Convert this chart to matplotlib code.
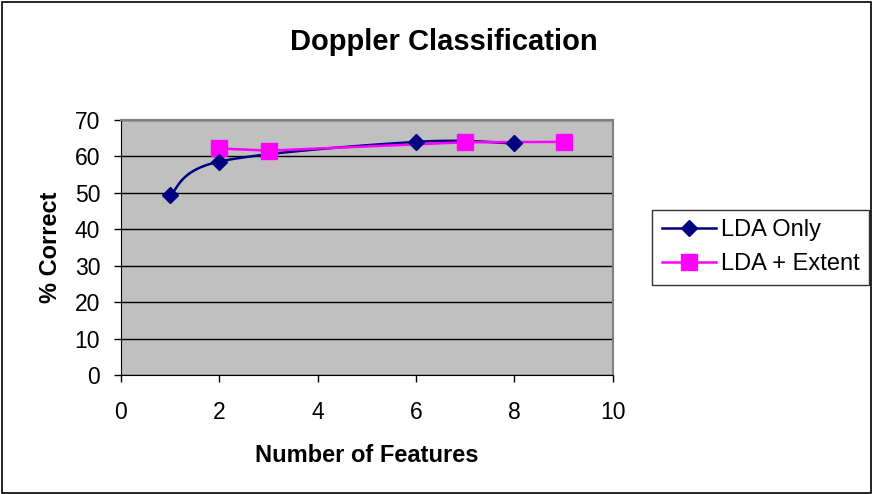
import numpy as np
import matplotlib
matplotlib.use("Agg")
import matplotlib.pyplot as plt
from matplotlib.patches import Rectangle
from matplotlib.lines import Line2D

plt.rcParams['font.family'] = ['Liberation Sans', 'DejaVu Sans']

# data
lda_x = [1, 2, 6, 8]
lda_y = [49.4, 58.6, 64.0, 63.6]
ext_x = [2, 3, 7, 9]
ext_y = [62.2, 61.6, 63.9, 64.0]

xticks = [0, 2, 4, 6, 8, 10]
yticks = [0, 10, 20, 30, 40, 50, 60, 70]


def smooth(xs, ys, n=30):
    # bezier smoothing like the spreadsheet "smoothed line" option
    x = np.array(xs, float)
    y = np.array(ys, float)
    px = np.concatenate([[x[0]], x, [x[-1]]])
    py = np.concatenate([[y[0]], y, [y[-1]]])
    outx, outy = [], []
    for i in range(1, len(px)-2):
        t = np.linspace(0, 1, n)
        for arr, out in ((px, outx), (py, outy)):
            p0, p1, p2, p3 = arr[i-1], arr[i], arr[i+1], arr[i+2]
            c1 = p1 + (p2 - p0) / 6.0
            c2 = p2 - (p3 - p1) / 6.0
            out.extend((1-t)**3*p1 + 3*(1-t)**2*t*c1 + 3*(1-t)*t**2*c2 + t**3*p2)
    return outx, outy


fig = plt.figure(figsize=(8.73, 4.94), dpi=100)
fig.patches.append(Rectangle((0.002, 0.002), 0.996, 0.994, transform=fig.transFigure,
                             fill=False, edgecolor='black', linewidth=1.2))

ax = fig.add_axes([0.1386, 0.241, 0.5634, 0.516])
ax.set_facecolor('#C0C0C0')

sx, sy = smooth(lda_x, lda_y)
ax.plot(sx, sy, color='#000080', linewidth=1.8, zorder=3)
ax.plot(lda_x, lda_y, linestyle='none', marker='D', markersize=8.5,
        color='#000080', zorder=4)
ax.plot(ext_x, ext_y, color='#FF00FF', linewidth=1.8, marker='s', markersize=11,
        zorder=3)

ax.set_xlim(0, 10)
ax.set_ylim(0, 70)
ax.set_xticks(xticks)
ax.set_yticks(yticks)
ax.tick_params(labelsize=16.5, direction='out', length=5, width=1)
ax.tick_params(axis='x', pad=14)
ax.tick_params(axis='y', pad=10)
ax.yaxis.grid(True, color='black', linewidth=1)
ax.set_axisbelow(True)
for s in ('top', 'right'):
    ax.spines[s].set_color('#808080')
    ax.spines[s].set_linewidth(1.5)
for s in ('left', 'bottom'):
    ax.spines[s].set_color('black')

ax.set_xlabel('Number of Features', fontsize=17, fontweight='bold', labelpad=14)
ax.set_ylabel('% Correct', fontsize=17, fontweight='bold', labelpad=9)
fig.text(0.508, 0.915, 'Doppler Classification', ha='center', va='center',
         fontsize=21, fontweight='bold')

handles = [Line2D([], [], color='#000080', marker='D', markersize=8.5, linewidth=1.8),
           Line2D([], [], color='#FF00FF', marker='s', markersize=11, linewidth=1.8)]
leg = fig.legend(handles, ['LDA Only', 'LDA + Extent'], loc='upper left',
                 bbox_to_anchor=(0.747, 0.575), fontsize=17, frameon=True,
                 fancybox=False, edgecolor='black', handlelength=2.3,
                 handletextpad=0.2, borderpad=0.4, labelspacing=0.5,
                 borderaxespad=0)
leg.get_frame().set_linewidth(1)

fig.savefig('out.png', dpi=100)
